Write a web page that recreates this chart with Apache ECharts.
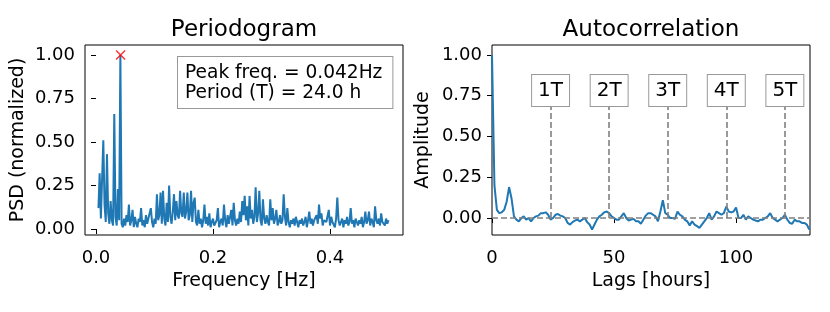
<!DOCTYPE html>
<html><head><meta charset="utf-8">
<script src="https://cdn.jsdelivr.net/npm/echarts@6/dist/echarts.min.js"></script>
<style>html,body{margin:0;padding:0;background:#fff}#c{width:830px;height:312px}</style>
</head><body><div id="c"></div>
<script>
// ---------- data ----------
const freqDen = 480;      // frequency resolution 1/480 Hz
const freqStartK = 2;     // first frequency bin index
const psd = [
 0.12,0.32,0.06,0.29,0.51,0.14,0.04,0.43,0.09,0.03,0.16,0.05,0.02,0.66,0.07,0.02,0.23,0.05,1.0,0.03,
 0.01,0.06,0.02,0.08,0.04,0.14,0.02,0.05,0.11,0.01,0.07,0.03,0.01,0.06,0.04,0.12,0.02,0.05,0.01,0.08,
 0.03,0.02,0.09,0.12,0.04,0.01,0.06,0.03,0.20,0.05,0.08,0.21,0.03,0.22,0.06,0.02,0.15,0.04,0.25,0.07,
 0.03,0.10,0.20,0.05,0.16,0.08,0.06,0.22,0.09,0.07,0.21,0.06,0.10,0.21,0.05,0.08,0.22,0.04,0.15,0.18,
 0.04,0.02,0.11,0.03,0.06,0.01,0.05,0.14,0.03,0.07,0.02,0.09,0.01,0.04,0.06,0.02,0.03,0.05,0.12,0.01,
 0.04,0.06,0.02,0.14,0.05,0.01,0.08,0.03,0.04,0.11,0.02,0.15,0.05,0.02,0.06,0.03,0.10,0.04,0.16,0.08,
 0.19,0.05,0.13,0.02,0.19,0.06,0.11,0.03,0.07,0.24,0.04,0.09,0.22,0.05,0.02,0.17,0.06,0.03,0.08,0.04,
 0.02,0.17,0.05,0.12,0.03,0.06,0.11,0.02,0.04,0.08,0.03,0.05,0.20,0.07,0.02,0.12,0.04,0.01,0.05,0.03,
 0.06,0.02,0.07,0.04,0.01,0.05,0.03,0.06,0.02,0.04,0.07,0.01,0.05,0.10,0.03,0.06,0.02,0.05,0.04,0.08,
 0.03,0.14,0.06,0.09,0.02,0.05,0.04,0.04,0.03,0.11,0.02,0.07,0.04,0.05,0.01,0.06,0.18,0.05,0.02,0.04,
 0.06,0.01,0.05,0.03,0.07,0.02,0.04,0.12,0.03,0.05,0.01,0.06,0.04,0.02,0.05,0.03,0.07,0.01,0.04,0.10,
 0.03,0.05,0.10,0.02,0.06,0.04,0.01,0.13,0.05,0.03,0.06,0.02,0.09,0.04,0.05,0.02,0.06,0.03,0.05
];
const peakFreq = 0.042;
const peakPsd = 1.0;
const acf = [
 1.0,0.20,0.05,0.03,0.035,0.05,0.10,0.19,0.12,0.01,
 -0.01,-0.02,0.0,0.01,-0.01,0.0,-0.02,0.0,0.01,0.015,
 0.03,0.03,0.035,0.02,-0.01,0.0,0.02,0.025,0.015,0.01,
 0.0,-0.03,-0.04,-0.025,-0.015,-0.01,-0.02,-0.01,0.0,-0.025,
 -0.04,-0.07,-0.04,-0.01,0.01,0.02,0.035,0.04,0.03,0.01,
 0.0,-0.01,-0.01,0.01,0.03,0.0,-0.015,-0.01,-0.005,-0.02,
 -0.02,-0.035,-0.01,0.015,0.03,0.03,0.02,0.01,-0.02,0.04,
 0.11,0.03,0.02,0.0,0.0,-0.005,0.04,0.02,0.01,-0.01,
 -0.02,-0.045,-0.02,-0.04,-0.05,-0.06,-0.04,-0.02,0.0,0.03,
 -0.01,0.01,0.04,0.03,0.02,0.03,0.07,0.04,0.035,0.04,
 0.065,0.0,0.0,0.02,-0.01,0.01,0.0,-0.01,-0.015,-0.02,
 -0.01,-0.01,0.0,0.01,0.03,0.0,-0.01,-0.02,-0.01,0.0,
 0.02,-0.01,-0.03,-0.035,-0.01,-0.02,-0.02,-0.03,-0.03,-0.04,
 -0.07
];
const periodLags = [24, 48, 72, 96, 120];
const periodLabels = ['1T', '2T', '3T', '4T', '5T'];
const psdTicks = [0, 0.2, 0.4];
const yTicks = [0, 0.25, 0.5, 0.75, 1.0];
const lagTicks = [0, 50, 100];
const infoText = ['Peak freq. = 0.042Hz', 'Period (T) = 24.0 h'];

// ---------- chart ----------
const FONT = 'DejaVu Sans';
const blue = '#1f77b4';
const psdData = psd.map((v, i) => [(i + freqStartK) / freqDen, v]);
const acfData = acf.map((v, i) => [i, v]);

function xAx(grid, min, max, ticks, name, fmt) {
  return {
    type: 'value', gridIndex: grid, min, max,
    splitLine: {show: false},
    axisLine: {show: false},
    axisTick: {show: true, inside: false, length: 5, lineStyle: {color: '#000', width: 1}, customValues: ticks},
    axisLabel: {color: '#000', fontFamily: FONT, fontSize: 18, margin: 14, customValues: ticks, formatter: fmt},
    name, nameLocation: 'middle', nameGap: 37,
    nameTextStyle: {color: '#000', fontFamily: FONT, fontSize: 19}
  };
}
function yAx(grid, min, max, name, gap) {
  return {
    type: 'value', gridIndex: grid, min, max,
    splitLine: {show: false},
    axisLine: {show: false},
    axisTick: {show: true, inside: false, length: 5, lineStyle: {color: '#000', width: 1}, customValues: yTicks},
    axisLabel: {color: '#000', fontFamily: FONT, fontSize: 18, margin: 10, customValues: yTicks, formatter: v => v.toFixed(2)},
    name, nameLocation: 'middle', nameRotate: 90, nameGap: gap,
    nameTextStyle: {color: '#000', fontFamily: FONT, fontSize: 19}
  };
}

const chart = echarts.init(document.getElementById('c'), null, {renderer: 'canvas'});
chart.setOption({
  animation: false,
  backgroundColor: '#fff',
  grid: [
    {left: 85, top: 45, width: 318, height: 190, show: true, borderColor: '#000', borderWidth: 1, backgroundColor: 'transparent'},
    {left: 492, top: 45, width: 318, height: 190, show: true, borderColor: '#000', borderWidth: 1, backgroundColor: 'transparent'}
  ],
  xAxis: [
    xAx(0, -0.0188, 0.5248, psdTicks, 'Frequency [Hz]', v => v.toFixed(1)),
    xAx(1, 0, 130.3, lagTicks, 'Lags [hours]', v => String(v))
  ],
  yAxis: [
    yAx(0, -0.0345, 1.057, 'PSD (normalized)', 57),
    yAx(1, -0.104, 1.061, 'Amplitude', 59)
  ],
  graphic: [
    {type: 'text', x: 244, y: 30, style: {text: 'Periodogram', font: '23px "DejaVu Sans"', fill: '#000', textAlign: 'center', textVerticalAlign: 'middle'}},
    {type: 'text', x: 651, y: 30, style: {text: 'Autocorrelation', font: '23px "DejaVu Sans"', fill: '#000', textAlign: 'center', textVerticalAlign: 'middle'}},
    {type: 'text', x: 178, y: 57, z: 100, style: {
      text: infoText.join('\n'), font: '18.6px "DejaVu Sans"', fill: '#000', lineHeight: 20,
      backgroundColor: '#fff', borderColor: '#999', borderWidth: 1, padding: [6, 10, 5, 7]
    }}
  ],
  series: [
    {type: 'line', xAxisIndex: 0, yAxisIndex: 0, data: psdData, showSymbol: false,
     lineStyle: {color: blue, width: 2}, itemStyle: {color: blue}},
    {type: 'scatter', xAxisIndex: 0, yAxisIndex: 0, data: [[peakFreq, peakPsd]],
     symbol: 'path://M0,0L10,10M10,0L0,10', symbolSize: 9,
     itemStyle: {color: 'transparent', borderColor: 'red', borderWidth: 1.5}, z: 5},
    {type: 'line', xAxisIndex: 1, yAxisIndex: 1, data: acfData, showSymbol: false,
     lineStyle: {color: blue, width: 2}, itemStyle: {color: blue},
     markLine: {
       silent: true, symbol: ['none', 'none'], animation: false,
       lineStyle: {color: '#808080', type: [6, 3], width: 1.6},
       label: {show: false},
       data: [
         {yAxis: 0, label: {show: false}},
         ...periodLags.map((l, i) => [
           {coord: [l, 0], label: {show: true, position: 'end', formatter: periodLabels[i], distance: 0,
             color: '#000', fontFamily: FONT, fontSize: 20, lineHeight: 20, backgroundColor: '#fff',
             borderColor: '#999', borderWidth: 1, padding: [6, 6, 5, 6]}},
           {coord: [l, 0.687]}
         ])
       ]
     }}
  ]
});
</script></body></html>
